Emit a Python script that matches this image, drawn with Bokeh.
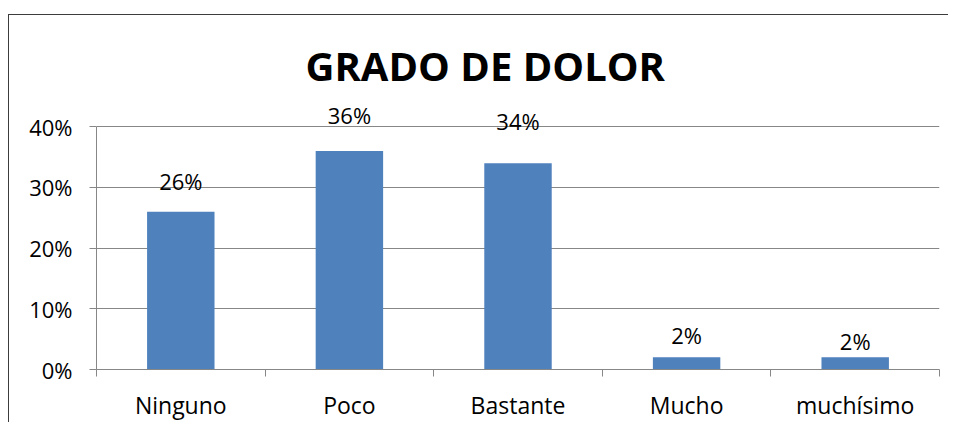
from bokeh.plotting import figure
from bokeh.models import (ColumnDataSource, Range1d, FixedTicker, NumeralTickFormatter,
                          Title)
from bokeh.core.properties import value
from bokeh.embed import file_html
from bokeh.resources import INLINE

# ---- data ----
categories = ["Ninguno", "Poco", "Bastante", "Mucho", "muchísimo"]
values = [0.26, 0.36, 0.34, 0.02, 0.02]
labels = ["26%", "36%", "34%", "2%", "2%"]
y_ticks = [0, 0.1, 0.2, 0.3, 0.4]

# label offsets (pixels above bar top) as in the original chart
label_offsets = [-31, -36, -42, -22, -16]

xs = [i + 0.5 for i in range(len(categories))]
src = ColumnDataSource(dict(x=xs, top=values, lab=labels, off=label_offsets))

FONT = "Open Sans"
GRID = "#878787"

p = figure(width=940, height=408, output_backend="svg", toolbar_location=None,
           x_range=Range1d(0, len(categories)), y_range=Range1d(0, 0.44),
           min_border_left=87, min_border_right=10, min_border_top=87,
           min_border_bottom=52)
p.styles = {"border-left": "1px solid #3c3c3c", "border-top": "1px solid #3c3c3c",
            "margin-top": "14px", "margin-left": "8px"}
p.outline_line_color = None
p.background_fill_color = "white"
p.border_fill_color = "white"

p.title = Title(text="GRADO DE DOLOR", align="left", offset=209, standoff=19,
                text_font=FONT, text_font_size="40px", text_font_style="bold",
                text_color="black")

p.vbar(x="x", top="top", width=0.4, bottom=0, source=src,
       fill_color="#4F81BD", line_color=None)

p.text(x="x", y="top", text="lab", y_offset="off", source=src,
       text_align="center", text_baseline="middle",
       text_font=value(FONT), text_font_size="22px", text_color="black")

# y axis
yax = p.yaxis[0]
yax.bounds = (0, 0.4)
yax.ticker = FixedTicker(ticks=y_ticks)
yax.formatter = NumeralTickFormatter(format="0%")
yax.axis_line_color = GRID
yax.major_tick_line_color = GRID
yax.major_tick_out = 7
yax.major_tick_in = 0
yax.minor_tick_line_color = None
yax.major_label_text_font = FONT
yax.major_label_text_font_size = "22px"
yax.major_label_text_color = "black"
yax.major_label_standoff = 17

# x axis: labels at category centres, ticks at boundaries
xax = p.xaxis[0]
xax.ticker = FixedTicker(ticks=xs, minor_ticks=list(range(len(categories) + 1)))
xax.major_label_overrides = {x: c for x, c in zip(xs, categories)}
xax.axis_line_color = GRID
xax.major_tick_line_color = None
xax.major_tick_out = 0
xax.major_tick_in = 0
xax.minor_tick_line_color = GRID
xax.minor_tick_out = 7
xax.minor_tick_in = 0
xax.major_label_text_font = FONT
xax.major_label_text_font_size = "23px"
xax.major_label_text_color = "black"
xax.major_label_standoff = 12

p.xgrid.grid_line_color = None
p.ygrid.ticker = FixedTicker(ticks=y_ticks)
p.ygrid.grid_line_color = GRID
p.ygrid.grid_line_width = 1

open("out.html", "w").write(file_html(p, INLINE))
